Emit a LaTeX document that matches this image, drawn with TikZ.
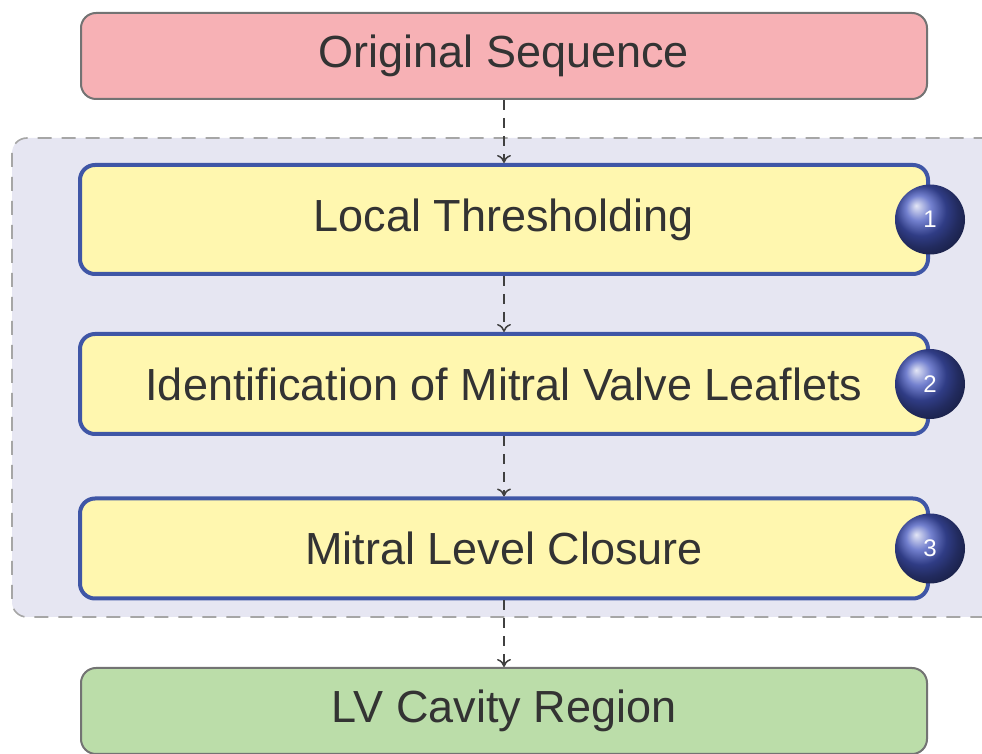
\documentclass[tikz,border=0pt]{standalone}
\usepackage{fontspec}
\setmainfont{Liberation Sans}
\usetikzlibrary{positioning,arrows.meta}

\definecolor{seqred}{HTML}{F7B1B5}
\definecolor{stepyellow}{HTML}{FFF7AF}
\definecolor{stepblue}{HTML}{3F56A6}
\definecolor{groupbg}{HTML}{E6E6F2}
\definecolor{cavgreen}{HTML}{BBDDA9}
\definecolor{ballblue}{HTML}{4456BE}
\definecolor{txtgray}{HTML}{333333}

\begin{document}
\begin{tikzpicture}[x=0.5pt, y=-0.5pt,
    endbox/.style={draw=black!55, line width=1pt, rounded corners=7.5pt,
        minimum width=423pt, minimum height=43pt, text=txtgray,
        font=\fontsize{22.5}{26}\selectfont},
    stepbox/.style={draw=stepblue, fill=stepyellow, line width=2pt,
        rounded corners=7.5pt, minimum width=424pt, text=txtgray,
        font=\fontsize{22.5}{26}\selectfont},
    numball/.style={circle, shade, ball color=ballblue, minimum size=35pt,
        inner sep=0pt, text=white, font=\fontsize{12}{14}\selectfont},
    flow/.style={-{To[length=4pt, width=7pt]}, black!75, line width=0.75pt,
        dash pattern=on 5pt off 4pt}
]

    % Picture size
    \def\W{982}
    \def\H{754}
    \useasboundingbox (0, 0) rectangle (\W, \H);
    \clip (0, 0) rectangle (\W, \H);

    % Group of the three steps
    \draw[fill=groupbg, draw=black!35, line width=0.8pt, rounded corners=7.5pt,
        dash pattern=on 7pt off 5pt] (12, 138) rectangle (1010, 617);

    % Input and output
    \node[endbox, fill=seqred] (orig) at (504, 56) {Original Sequence};
    \node[endbox, fill=cavgreen] (cav) at (504, 711) {LV Cavity Region};

    % Steps
    \node[stepbox, minimum height=54.5pt] (s1) at (504, 219.5) {Local Thresholding};
    \node[stepbox, minimum height=50pt] (s2) at (504, 384) {Identification of Mitral Valve Leaflets};
    \node[stepbox, minimum height=50pt] (s3) at (504, 548.5) {Mitral Level Closure};

    % Step numbers
    \node[numball] (n1) at (s1.east) {1};
    \node[numball] (n2) at (s2.east) {2};
    \node[numball] (n3) at (s3.east) {3};

    % Flow
    \draw[flow] (orig) -- (s1);
    \draw[flow] (s1) -- (s2);
    \draw[flow] (s2) -- (s3);
    \draw[flow] (s3) -- (cav);

\end{tikzpicture}
\end{document}
